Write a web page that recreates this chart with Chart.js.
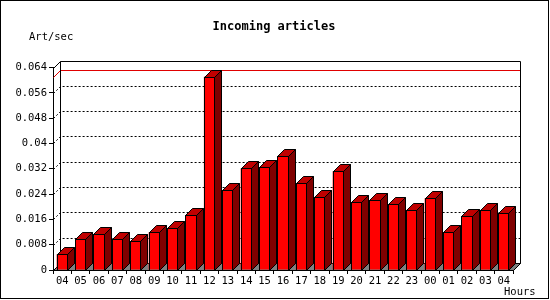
<!DOCTYPE html>
<html>
<head>
<meta charset="utf-8">
<script src="https://cdn.jsdelivr.net/npm/chart.js@4"></script>
<style>
  body { margin: 0; background: #fff; }
  #myChart { display: block; }
</style>
</head>
<body>
<canvas id="myChart" width="550" height="300"></canvas>
<script>
// hours on the x axis (one day, 04 to 04)
const hours = ["04", "05", "06", "07", "08", "09", "10", "11", "12", "13", "14", "15", "16",
               "17", "18", "19", "20", "21", "22", "23", "00", "01", "02", "03", "04"];

// incoming articles per second
const artPerSec = [0.0050, 0.0097, 0.0113, 0.0097, 0.0091, 0.0119, 0.0132, 0.0173, 0.0611,
                   0.0252, 0.0321, 0.0325, 0.0360, 0.0274, 0.0230, 0.0312, 0.0214, 0.0220,
                   0.0208, 0.0189, 0.0227, 0.0119, 0.0170, 0.0189, 0.0179];

// y tick values and their labels
const yTicks = [0, 0.008, 0.016, 0.024, 0.032, 0.04, 0.048, 0.056, 0.064];
const yTickLabels = ["0", "0.008", "0.016", "0.024", "0.032", "0.04", "0.048", "0.056", "0.064"];

const DX = 7, DY = 7; // depth of the 3d effect
const FONT = "DejaVu Sans Mono, monospace";

function poly(ctx, pts, fill) {
    ctx.beginPath();
    ctx.moveTo(pts[0][0], pts[0][1]);
    for (let i = 1; i < pts.length; i++) ctx.lineTo(pts[i][0], pts[i][1]);
    ctx.closePath();
    if (fill) { ctx.fillStyle = fill; ctx.fill(); }
    ctx.strokeStyle = "#000";
    ctx.lineWidth = 1;
    ctx.stroke();
}

const threeD = {
    id: "threeD",
    beforeDraw(chart) {
        const ctx = chart.ctx;
        ctx.save();
        ctx.fillStyle = "#fff";
        ctx.fillRect(0, 0, chart.width, chart.height);
        ctx.restore();
    },
    beforeDatasetsDraw(chart) {
        const ctx = chart.ctx;
        const a = chart.chartArea;
        const ys = chart.scales.y;
        const L = Math.round(a.left) + 0.5, R = Math.round(a.right) + 0.5;
        const T = Math.round(a.top) + 0.5, B = Math.round(a.bottom) + 0.5;
        ctx.save();
        // floor
        poly(ctx, [[L, B], [R, B], [R + DX, B - DY], [L + DX, B - DY]], "#808080");
        // back wall grid lines (dotted)
        ctx.setLineDash([2, 2]);
        ctx.strokeStyle = "#000";
        yTicks.forEach(function (v) {
            if (v === 0 || v === yTicks[yTicks.length - 1]) return;
            const py = Math.round(ys.getPixelForValue(v)) + 0.5;
            ctx.beginPath();
            ctx.moveTo(L, py);
            ctx.lineTo(L + DX, py - DY);
            ctx.lineTo(R + DX, py - DY);
            ctx.stroke();
        });
        ctx.setLineDash([]);
        // max line in red
        const maxVal = Math.max.apply(null, artPerSec);
        const my = Math.round(ys.getPixelForValue(maxVal)) + 0.5;
        ctx.strokeStyle = "#e00000";
        ctx.beginPath();
        ctx.moveTo(L, my);
        ctx.lineTo(L + DX, my - DY);
        ctx.lineTo(R + DX, my - DY);
        ctx.stroke();
        // back frame
        ctx.strokeStyle = "#000";
        ctx.beginPath();
        ctx.moveTo(L, T);
        ctx.lineTo(L + DX, T - DY);
        ctx.lineTo(R + DX, T - DY);
        ctx.lineTo(R + DX, B - DY);
        ctx.lineTo(R, B);
        ctx.moveTo(L + DX, T - DY);
        ctx.lineTo(L + DX, B - DY);
        ctx.stroke();
        ctx.restore();
    },
    afterDatasetsDraw(chart) {
        const ctx = chart.ctx;
        const meta = chart.getDatasetMeta(0);
        ctx.save();
        meta.data.forEach(function (bar) {
            const x0 = Math.round(bar.x - bar.width / 2) + 0.5;
            const x1 = Math.round(bar.x + bar.width / 2) - 0.5;
            const yt = Math.round(bar.y) + 0.5;
            const yb = Math.round(bar.base) + 0.5;
            // side face
            poly(ctx, [[x1, yt], [x1 + DX, yt - DY], [x1 + DX, yb - DY], [x1, yb]], "#800000");
            // top face
            poly(ctx, [[x0, yt], [x1, yt], [x1 + DX, yt - DY], [x0 + DX, yt - DY]], "#c00000");
            // front outline
            ctx.strokeRect(x0, yt, x1 - x0, yb - yt);
        });
        ctx.restore();
    },
    afterDraw(chart) {
        const ctx = chart.ctx;
        ctx.save();
        ctx.fillStyle = "#000";
        ctx.font = "bold 12px " + FONT;
        ctx.textAlign = "center";
        ctx.textBaseline = "middle";
        ctx.fillText("Incoming articles", 274, 27);
        ctx.font = "10.5px " + FONT;
        ctx.textAlign = "left";
        ctx.fillText("Art/sec", 29, 37);
        ctx.fillText("Hours", 504, 292);
        // image border
        ctx.strokeStyle = "#000";
        ctx.lineWidth = 1;
        ctx.strokeRect(0.5, 0.5, 548, 298);
        ctx.restore();
    }
};

const config = {
    type: "bar",
    data: {
        labels: hours,
        datasets: [{
            data: artPerSec,
            backgroundColor: "#ff0000",
            borderWidth: 0,
            categoryPercentage: 1,
            barPercentage: 0.6,
        }],
    },
    options: {
        responsive: false,
        animation: false,
        events: [],
        layout: { padding: { left: 0, right: 37, top: 67.5, bottom: 0 } },
        plugins: { legend: { display: false }, tooltip: { enabled: false }, title: { display: false } },
        scales: {
            x: {
                afterFit(scale) { scale.height = 30; },
                grid: { offset: true, drawOnChartArea: false, tickLength: 4, color: "#000" },
                border: { color: "#000" },
                ticks: {
                    color: "#000",
                    padding: 1,
                    maxRotation: 0,
                    autoSkip: false,
                    font: { family: FONT, size: 10.5 },
                },
            },
            y: {
                min: 0,
                max: 0.064,
                afterFit(scale) { scale.width = 53; },
                afterBuildTicks(scale) { scale.ticks = yTicks.map(v => ({ value: v })); },
                grid: { drawOnChartArea: false, tickLength: 4, color: "#000" },
                border: { color: "#000" },
                ticks: {
                    color: "#000",
                    padding: 2,
                    font: { family: FONT, size: 10.5 },
                    callback: (v) => yTickLabels[yTicks.indexOf(v)],
                },
            },
        },
    },
    plugins: [threeD],
};

const myChart = new Chart(document.getElementById("myChart"), config);
</script>
</body>
</html>
